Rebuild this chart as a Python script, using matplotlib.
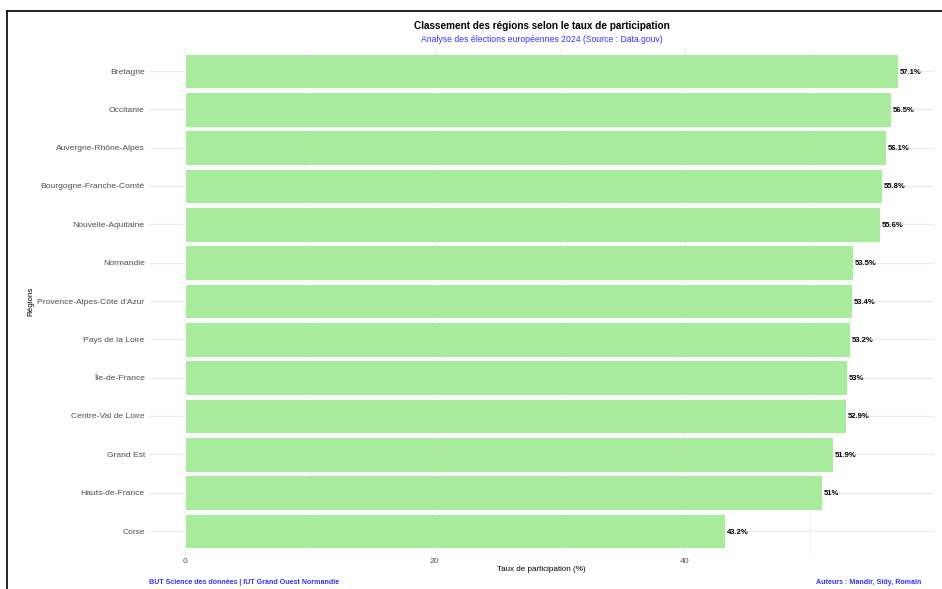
import matplotlib
matplotlib.use("Agg")
import matplotlib.pyplot as plt
from matplotlib.lines import Line2D
import numpy as np

plt.rcParams['font.family'] = ['Liberation Sans', 'DejaVu Sans']

regions = ["Bretagne", "Occitanie", "Auvergne-Rhône-Alpes", "Bourgogne-Franche-Comté",
           "Nouvelle-Aquitaine", "Normandie", "Provence-Alpes-Côte d'Azur", "Pays de la Loire",
           "Île-de-France", "Centre-Val de Loire", "Grand Est", "Hauts-de-France", "Corse"]
taux = [57.1, 56.5, 56.1, 55.8, 55.6, 53.5, 53.4, 53.2, 53.0, 52.9, 51.9, 51.0, 43.2]
x_ticks = [0, 20, 40]
x_minor = [10, 30, 50]

W, H = 942, 589
fig = plt.figure(figsize=(W / 100, H / 100), dpi=100)
fig.patch.set_facecolor("white")

left, right, top, bottom = 149, 934, 48, 554
ax = fig.add_axes([left / W, 1 - bottom / H, (right - left) / W, (bottom - top) / H])
ax.set_facecolor("white")

n = len(regions)
ypos = np.arange(n)[::-1]
xmax = max(taux) * 1.05
ax.set_xlim(-0.05 * max(taux), xmax)
ax.set_ylim(-0.6, n - 1 + 0.6)

ax.set_axisbelow(True)
ax.set_xticks(x_ticks)
ax.set_xticks(x_minor, minor=True)
ax.set_yticks(ypos)
ax.set_yticklabels(regions)
ax.set_xticklabels([str(t) for t in x_ticks])
ax.grid(True, which="major", axis="both", color="#EBEBEB", linewidth=0.9)
ax.grid(True, which="minor", axis="x", color="#EBEBEB", linewidth=0.5)
ax.tick_params(axis="both", which="both", length=0, colors="#4D4D4D", labelsize=6.1)
ax.tick_params(axis="y", pad=3)
ax.tick_params(axis="x", pad=3)
for s in ax.spines.values():
    s.set_visible(False)

ax.barh(ypos, taux, height=0.9, color="#A8EB9C", edgecolor="white", linewidth=0.6)
for y, v in zip(ypos, taux):
    ax.text(v + 0.15, y, f"{v:g}%", ha="left", va="center_baseline", fontsize=5.5,
            fontweight="bold", color="black")

ax.set_xlabel("Taux de participation (%)", fontsize=5.8, color="black")
ax.set_ylabel("Régions", fontsize=5.8, color="black")
ax.xaxis.set_label_coords(0.5, -(566 - bottom) / (bottom - top))
ax.yaxis.set_label_coords(-(left - 34) / (right - left), 0.5)

cx = (left + right) / 2 / W
fig.text(cx, 1 - 26 / H, "Classement des régions selon le taux de participation",
         ha="center", va="center", fontsize=7.2, fontweight="bold", color="black")
fig.text(cx, 1 - 40 / H, "Analyse des élections européennes 2024 (Source : Data.gouv)",
         ha="center", va="center", fontsize=6.2, color="#3333FF")
fig.text(left / W, 1 - 583 / H, "BUT Science des données | IUT Grand Ouest Normandie",
         ha="left", va="center", fontsize=5.1, fontweight="bold", color="#3333FF")
fig.text(921 / W, 1 - 583 / H, "Auteurs : Mandir, Sidy, Romain",
         ha="right", va="center", fontsize=5.1, fontweight="bold", color="#3333FF")

# frame border (clipped at right and bottom in the reference)
fig.add_artist(Line2D([7 / W, 1.0], [1 - 11 / H, 1 - 11 / H], color="black", linewidth=1.2,
                      transform=fig.transFigure))
fig.add_artist(Line2D([7 / W, 7 / W], [1 - 11 / H, 0.0], color="black", linewidth=1.2,
                      transform=fig.transFigure))

fig.savefig("out.png", dpi=100)
